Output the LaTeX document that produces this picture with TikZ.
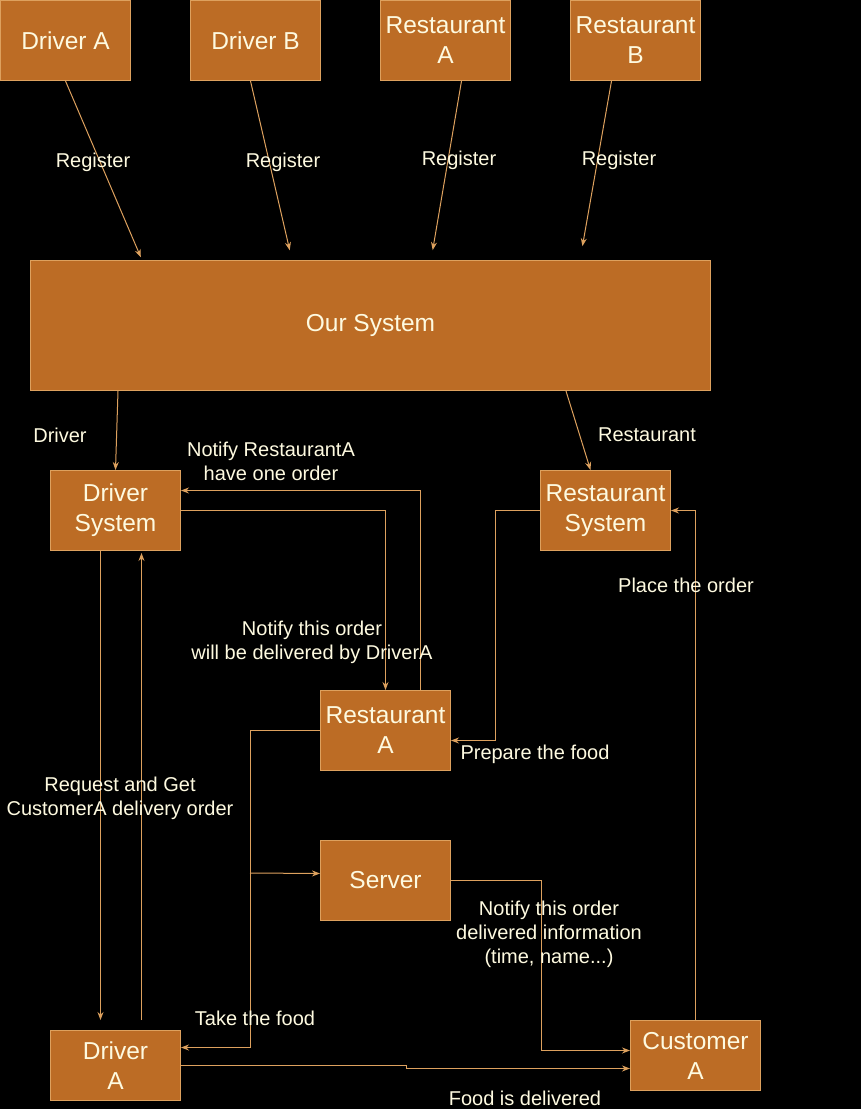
\documentclass[tikz,border=0pt]{standalone}
\usepackage{fontspec}
\setmainfont{Liberation Sans}
\usetikzlibrary{arrows.meta}
\definecolor{boxfill}{HTML}{BC6C25}
\definecolor{boxline}{HTML}{DDA15E}
\definecolor{txt}{HTML}{FEFAE0}
\begin{document}
\begin{tikzpicture}[x=1pt,y=-1pt,
  box/.style={draw=boxline, fill=boxfill, line width=1pt, text=txt,
    font=\fontsize{24.5}{30}\selectfont, align=center, inner sep=0pt,
    anchor=north west, minimum width=130pt, minimum height=80pt},
  lbl/.style={text=txt, font=\fontsize{20}{24}\selectfont, align=center, inner sep=0pt, yshift=-2pt},
  conn/.style={draw=boxline, line width=1pt, -{Stealth[length=8pt,width=6pt]}},
  plain/.style={draw=boxline, line width=1pt}]
\fill[black] (0,0) rectangle (861,1109);
\useasboundingbox (0,0) rectangle (861,1109);
% boxes
\node[box] (da) at (0,0) {Driver A};
\node[box] (db) at (190,0) {Driver B};
\node[box] (rta) at (380,0) {Restaurant\\A};
\node[box] (rtb) at (570,0) {Restaurant\\B};
\node[box, minimum width=680pt, minimum height=130pt] (sys) at (30,260) {Our System};
\node[box] (ds) at (50,470) {Driver\\System};
\node[box] (rs) at (540,470) {Restaurant\\System};
\node[box] (rmid) at (320,690) {Restaurant\\A};
\node[box] (srv) at (320,840) {Server};
\node[box, minimum height=70pt] (dab) at (50,1030) {Driver\\A};
\node[box, minimum height=70pt] (cust) at (630,1020) {Customer\\A};
% register arrows
\draw[conn, shorten >=3pt] (da.south) -- ([xshift=112pt]sys.north west);
\draw[conn, shorten >=10pt] ([xshift=-5pt]db.south) -- ([xshift=262pt]sys.north west);
\draw[conn, shorten >=10pt] ([xshift=16pt]rta.south) -- ([xshift=401pt]sys.north west);
\draw[conn, shorten >=14pt] ([xshift=-24pt]rtb.south) -- ([xshift=550pt]sys.north west);
% system to subsystems
\draw[conn] ([xshift=88pt]sys.south west) -- (ds.north);
\draw[conn] ([xshift=536pt]sys.south west) -- ([xshift=-15pt]rs.north);
% restaurant A to driver system
\draw[conn] ([xshift=35pt]rmid.north) |- ([yshift=20pt]ds.east);
\draw[conn] (ds.east) -| (rmid.north);
\draw[conn] (rs.west) -- ++(-45,0) |- ([yshift=-10pt]rmid.east);
\draw[conn] (cust.north) |- (rs.east);
% driver system <-> driver A
\draw[conn, shorten >=10pt] ([xshift=-15pt]ds.south) -- ([xshift=-15pt]dab.north);
\draw[conn, shorten <=10pt, shorten >=2pt] ([xshift=26pt]dab.north) -- ([xshift=26pt]ds.south);
% take the food / server
\draw[conn] (rmid.west) -- ++(-70,0) coordinate (tk) |- ([yshift=18pt]dab.east);
\coordinate (br) at (250,873);
\draw[conn] (br) -- ([yshift=7pt]srv.west);
\draw[conn] (srv.east) -- ++(90,0) |- ([yshift=5pt]cust.west);
\draw[conn] (dab.east) -- ++(225,0) coordinate (bend) -- ([yshift=-3pt]bend) -- ([yshift=-13pt]cust.west);
% labels
\node[lbl] (l1) at (93,160) {Register};
\node[lbl] (l2) at (283,160) {Register};
\node[lbl] (l3) at (459,158) {Register};
\node[lbl] (l4) at (619,158) {Register};
\node[lbl] (l5) at (60,433) {Driver};
\node[lbl] (l6) at (647,433) {Restaurant};
\node[lbl] (l7) at (271,459) {Notify RestaurantA\\have one order};
\node[lbl] (l8) at (312,640) {Notify this order\\will be delivered by DriverA};
\node[lbl] (l9) at (535,752) {Prepare the food};
\node[lbl] (l10) at (686,583) {Place the order};
\node[lbl] (l11) at (120,796) {Request and Get\\CustomerA delivery order};
\node[lbl] (l12) at (255,1016) {Take the food};
\node[lbl] (l13) at (549,932) {Notify this order\\delivered information\\(time, name...)};
\node[lbl] (l14) at (525,1096) {Food is delivered};
\end{tikzpicture}
\end{document}
